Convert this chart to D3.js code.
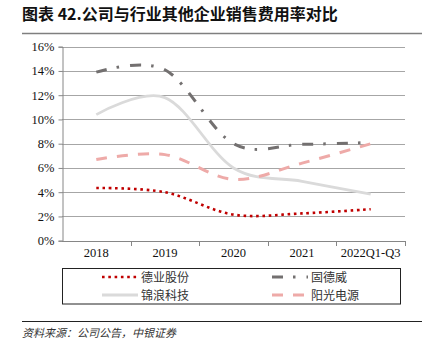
<!DOCTYPE html>
<html>
<head>
<meta charset="utf-8">
<script src="https://cdn.jsdelivr.net/npm/d3@7"></script>
<style>
  body { margin: 0; background: #fff; }
  svg { display: block; }
</style>
</head>
<body>
<svg id="chart"></svg>
<script>
// 销售费用率 (%)
const years = ["2018", "2019", "2020", "2021", "2022Q1-Q3"];
const deye = [4.35, 4.0, 2.15, 2.25, 2.6];       // 德业股份
const goodwe = [13.9, 14.1, 8.0, 7.95, 8.1];     // 固德威
const ginlong = [10.4, 11.8, 6.0, 4.9, 3.85];    // 锦浪科技
const sungrow = [6.7, 7.1, 5.05, 6.4, 8.0];      // 阳光电源
const yTicks = [0, 2, 4, 6, 8, 10, 12, 14, 16];

const width = 434, height = 353;
const svg = d3.select("#chart").attr("width", width).attr("height", height);

const serif = "'Liberation Serif', 'DejaVu Serif', serif";
const cjk = "'Noto Sans CJK SC', sans-serif";

// title
svg.append("text")
  .attr("x", 22).attr("y", 20)
  .attr("font-family", cjk).attr("font-weight", "bold")
  .attr("font-size", 16).attr("fill", "#111")
  .text("图表 42.公司与行业其他企业销售费用率对比");
svg.append("line")
  .attr("x1", 22).attr("x2", 422).attr("y1", 33.5).attr("y2", 33.5)
  .attr("stroke", "#7f7f7f").attr("stroke-width", 1.5);

const x = d3.scaleBand().domain(years).range([62, 405]);
const y = d3.scaleLinear().domain([0, 16]).range([240.7, 46.7]);

// gridlines
svg.append("g")
  .selectAll("line")
  .data(yTicks.filter(d => d > 0))
  .join("line")
  .attr("x1", 62).attr("x2", 405)
  .attr("y1", d => Math.round(y(d)) + 0.5).attr("y2", d => Math.round(y(d)) + 0.5)
  .attr("stroke", "#a6a6a6").attr("stroke-width", 1);

// y axis
const yAxis = svg.append("g")
  .attr("transform", "translate(62.5,0)")
  .call(d3.axisLeft(y).tickValues(yTicks).tickSize(4).tickFormat(d => d + "%"));
yAxis.select(".domain").attr("stroke", "#868686");
yAxis.selectAll(".tick line").attr("stroke", "#868686");
yAxis.selectAll(".tick text")
  .attr("font-family", serif).attr("font-size", 12.5).attr("fill", "#111")
  .attr("x", -8);

// x axis
const xAxis = svg.append("g")
  .attr("transform", `translate(0,${Math.round(y(0)) + 0.5})`)
  .call(d3.axisBottom(x).tickSize(0).tickPadding(7));
xAxis.select(".domain").attr("stroke", "#868686").attr("d", "M62,0H405");
xAxis.selectAll(".tick text")
  .attr("font-family", serif).attr("font-size", 12.5).attr("fill", "#111");
// boundary tick marks between categories
svg.append("g")
  .selectAll("line")
  .data(years)
  .join("line")
  .attr("x1", d => Math.round(x(d) + x.bandwidth()) + 0.5)
  .attr("x2", d => Math.round(x(d) + x.bandwidth()) + 0.5)
  .attr("y1", Math.round(y(0))).attr("y2", Math.round(y(0)) + 5)
  .attr("stroke", "#868686");

const line = d3.line()
  .x((d, i) => x(years[i]) + x.bandwidth() / 2)
  .y(d => y(d))
  .curve(d3.curveCardinal.tension(0));

const series = [
  { name: "锦浪科技", values: ginlong, color: "#dadada", dash: null, w: 2.8 },
  { name: "阳光电源", values: sungrow, color: "#eeaaa8", dash: "11,10", w: 3 },
  { name: "固德威", values: goodwe, color: "#737070", dash: "11,10,2.5,11", w: 3 },
  { name: "德业股份", values: deye, color: "#c00000", dash: "2.6,3.7", w: 2.6 }
];

svg.append("g")
  .selectAll("path")
  .data(series)
  .join("path")
  .attr("d", d => line(d.values))
  .attr("fill", "none")
  .attr("stroke", d => d.color)
  .attr("stroke-width", d => d.w)
  .attr("stroke-dasharray", d => d.dash);

// legend
svg.append("rect")
  .attr("x", 62.5).attr("y", 268.5).attr("width", 338).attr("height", 35.5)
  .attr("fill", "none").attr("stroke", "#222").attr("stroke-width", 1);

const legendItems = [
  { s: series[3], lx: 102, ly: 277 },
  { s: series[2], lx: 272, ly: 277 },
  { s: series[0], lx: 102, ly: 295 },
  { s: series[1], lx: 272, ly: 295 }
];
const lg = svg.append("g").selectAll("g").data(legendItems).join("g");
lg.append("line")
  .attr("x1", d => d.lx).attr("x2", d => d.lx + 36)
  .attr("y1", d => d.ly).attr("y2", d => d.ly)
  .attr("stroke", d => d.s.color)
  .attr("stroke-width", d => d.s.w)
  .attr("stroke-dasharray", d => d.s.dash);
lg.append("text")
  .attr("x", d => d.lx + 39).attr("y", d => d.ly + 4.5)
  .attr("font-family", cjk).attr("font-size", 12).attr("fill", "#333")
  .text(d => d.s.name);

// footer
svg.append("line")
  .attr("x1", 22).attr("x2", 422).attr("y1", 321.5).attr("y2", 321.5)
  .attr("stroke", "#222").attr("stroke-width", 1);
svg.append("text")
  .attr("x", 22).attr("y", 337)
  .attr("font-family", cjk).attr("font-size", 11).attr("font-style", "italic")
  .attr("fill", "#333")
  .text("资料来源：公司公告，中银证券");
</script>
</body>
</html>
